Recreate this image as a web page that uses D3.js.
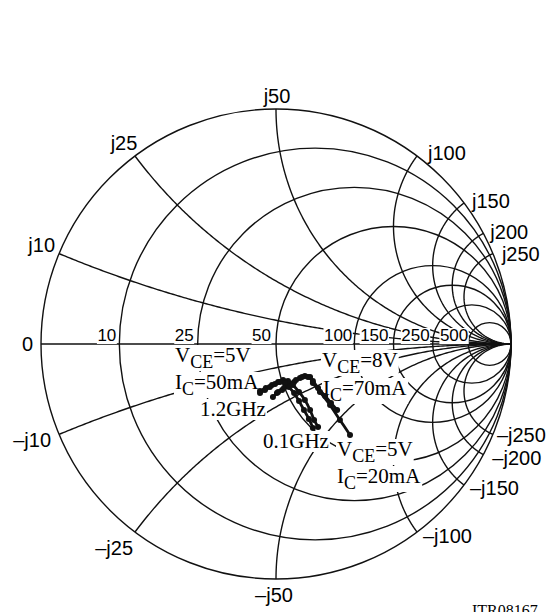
<!DOCTYPE html>
<html>
<head>
<meta charset="utf-8">
<script src="https://cdn.jsdelivr.net/npm/d3@7"></script>
<style>
  html, body { margin: 0; padding: 0; background: #fff; }
  svg { display: block; }
</style>
</head>
<body>
<script>
// Smith chart, Z0 = 50 ohm
const z0 = 50;
const resistanceOhms = [10, 25, 50, 100, 150, 250, 500];
const reactanceOhms = [10, 25, 50, 100, 150, 200, 250];
const frequenciesGHz = [0.1, 0.2, 0.3, 0.4, 0.5, 0.6, 0.7, 0.8, 0.9, 1.0, 1.1, 1.2];

// Reflection coefficient (real / imaginary) per bias point, 0.1 to 1.2 GHz
const gammaRe_5V20mA = [0.315, 0.272, 0.230, 0.187, 0.157, 0.145, 0.123, 0.102, 0.077, 0.051, 0.026, 0.004];
const gammaIm_5V20mA = [-0.387, -0.323, -0.260, -0.204, -0.166, -0.140, -0.136, -0.145, -0.162, -0.179, -0.196, -0.209];
const gammaRe_8V70mA = [0.260, 0.234, 0.209, 0.179, 0.157, 0.136, 0.111, 0.085, 0.060, 0.034, 0.009, -0.013];
const gammaIm_8V70mA = [-0.281, -0.251, -0.221, -0.187, -0.157, -0.140, -0.140, -0.153, -0.170, -0.187, -0.204, -0.226];
const gammaRe_5V50mA = [0.179, 0.162, 0.145, 0.123, 0.098, 0.072, 0.051, 0.030, 0.009, -0.017, -0.043, -0.068];
const gammaIm_5V50mA = [-0.353, -0.323, -0.281, -0.238, -0.204, -0.174, -0.157, -0.153, -0.162, -0.174, -0.187, -0.200];
const gammaRe_8V20mA = [0.157, 0.140, 0.119, 0.098, 0.077, 0.055, 0.038, 0.017, -0.004, -0.026, -0.047, -0.068];
const gammaIm_8V20mA = [-0.357, -0.319, -0.281, -0.243, -0.209, -0.183, -0.166, -0.162, -0.170, -0.183, -0.196, -0.209];

const traces = [
  { re: gammaRe_5V20mA, im: gammaIm_5V20mA },
  { re: gammaRe_8V70mA, im: gammaIm_8V70mA },
  { re: gammaRe_5V50mA, im: gammaIm_5V50mA },
  { re: gammaRe_8V20mA, im: gammaIm_8V20mA }
];

const W = 555, H = 612;
const cx = 276, cy = 344, R = 235;

const svg = d3.select("body").append("svg").attr("width", W).attr("height", H);

const x = d3.scaleLinear().domain([-1, 1]).range([cx - R, cx + R]);
const y = d3.scaleLinear().domain([-1, 1]).range([cy + R, cy - R]);
const px = d => x(d) - x(0); // length in pixels

const gridG = svg.append("g").attr("fill", "none").attr("stroke", "#111").attr("stroke-width", 1.4);

// outer unit circle
gridG.append("circle").attr("cx", x(0)).attr("cy", y(0)).attr("r", px(1));
// real axis
gridG.append("line").attr("x1", x(-1)).attr("x2", x(1)).attr("y1", y(0)).attr("y2", y(0));

// constant-resistance circles
resistanceOhms.forEach(ohm => {
  const r = ohm / z0;
  gridG.append("circle")
    .attr("cx", x(r / (1 + r))).attr("cy", y(0)).attr("r", px(1 / (1 + r)));
});

// Γ for a normalised impedance
function gammaOf(r, xx) {
  const den = (r + 1) * (r + 1) + xx * xx;
  return [(r * r + xx * xx - 1) / den, (2 * xx) / den];
}

// constant-reactance arcs, upper and lower half
const arcLine = d3.line().x(d => x(d[0])).y(d => y(d[1]));
reactanceOhms.forEach(ohm => {
  [1, -1].forEach(sign => {
    const xx = sign * ohm / z0;
    const pts = d3.range(0, 1.0001, 0.005).map(t => {
      // r sweeps 0 → ∞ through t/(1-t)
      const r = t >= 1 ? 1e6 : t / (1 - t);
      return gammaOf(r, xx);
    });
    pts.push([1, 0]);
    gridG.append("path").attr("d", arcLine(pts));
  });
});

// label with a white knock-out box behind it
const labelG = svg.append("g");
function knockLabel(sel, pad) {
  const bb = sel.node().getBBox();
  labelG.insert("rect", () => sel.node())
    .attr("x", bb.x - pad).attr("y", bb.y + 2).attr("width", bb.width + 2 * pad).attr("height", bb.height - 3)
    .attr("fill", "#fff");
}

const sans = "'Liberation Sans', Arial, Helvetica, sans-serif";
const serif = "'Liberation Serif', 'Times New Roman', Times, serif";

// resistance labels sit just above the axis, left of each circle crossing
const resOffsets = [-3, -4, -5, -2, -5, -3, 0];
resistanceOhms.forEach((ohm, i) => {
  const r = ohm / z0;
  const t = labelG.append("text")
    .attr("x", x((r - 1) / (r + 1)) + resOffsets[i]).attr("y", y(0) - 3)
    .attr("text-anchor", "end")
    .attr("font-family", sans).attr("font-size", 17)
    .text(String(ohm));
  knockLabel(t, 0.5);
});

// reactance labels at the rim
const reacLabelPos = {
  "10":  { up: ["end", -4, -2],   dn: ["end", -8, 13] },
  "25":  { up: ["middle", -11, -6], dn: ["end", -2, 23] },
  "50":  { up: ["middle", 1, -6],  dn: ["middle", -2, 23] },
  "100": { up: ["start", 11, 4],   dn: ["start", 6, 11] },
  "150": { up: ["start", 8, 5],    dn: ["start", 6, 10] },
  "200": { up: ["start", 7, 6],    dn: ["start", 9, 10] },
  "250": { up: ["start", 9, 7],    dn: ["start", 4, 8] }
};
reactanceOhms.forEach(ohm => {
  const xx = ohm / z0;
  const gUp = gammaOf(0, xx), gDn = gammaOf(0, -xx);
  const pu = reacLabelPos[String(ohm)].up, pd = reacLabelPos[String(ohm)].dn;
  labelG.append("text")
    .attr("x", x(gUp[0]) + pu[1]).attr("y", y(gUp[1]) + pu[2])
    .attr("text-anchor", pu[0])
    .attr("font-family", sans).attr("font-size", 20)
    .text("j" + ohm);
  labelG.append("text")
    .attr("x", x(gDn[0]) + pd[1]).attr("y", y(gDn[1]) + pd[2])
    .attr("text-anchor", pd[0])
    .attr("font-family", sans).attr("font-size", 20)
    .text("\u2013j" + ohm);
});
labelG.append("text")
  .attr("x", x(-1) - 8).attr("y", y(0) + 7)
  .attr("text-anchor", "end")
  .attr("font-family", sans).attr("font-size", 20)
  .text("0");

// bias / frequency annotations (serif, subscripts)
function biasLabel(xPos, yPos, main, sub, rest) {
  const t = labelG.append("text")
    .attr("x", xPos).attr("y", yPos)
    .attr("font-family", serif).attr("font-size", 21);
  t.append("tspan").text(main);
  t.append("tspan").attr("dy", 6).attr("font-size", 18).text(sub);
  t.append("tspan").attr("dy", -6).text(rest);
  knockLabel(t, 1);
}
function plainLabel(xPos, yPos, s) {
  const t = labelG.append("text")
    .attr("x", xPos).attr("y", yPos)
    .attr("font-family", serif).attr("font-size", 21)
    .text(s);
  knockLabel(t, 1);
}
biasLabel(175, 362, "V", "CE", "=5V");
biasLabel(175, 389, "I", "C", "=50mA");
plainLabel(200, 416, "1.2GHz");
biasLabel(322, 367, "V", "CE", "=8V");
biasLabel(323, 395, "I", "C", "=70mA");
plainLabel(263, 448, "0.1GHz");
biasLabel(337, 456, "V", "CE", "=5V");
biasLabel(337, 483, "I", "C", "=20mA");

labelG.append("text")
  .attr("x", 472).attr("y", 616)
  .attr("font-family", serif).attr("font-size", 16)
  .text("ITR08167");

// measured traces
const traceG = svg.append("g");
const traceLine = d3.line().x(d => x(d[0])).y(d => y(d[1])).curve(d3.curveCatmullRom);
traces.forEach(tr => {
  const pts = tr.re.map((v, i) => [v, tr.im[i]]);
  traceG.append("path").attr("d", traceLine(pts))
    .attr("fill", "none").attr("stroke", "#111").attr("stroke-width", 2.8)
    .attr("stroke-linecap", "round");
  traceG.selectAll(null).data(pts).enter().append("circle")
    .attr("cx", d => x(d[0])).attr("cy", d => y(d[1])).attr("r", 3)
    .attr("fill", "#111");
});
</script>
</body>
</html>
